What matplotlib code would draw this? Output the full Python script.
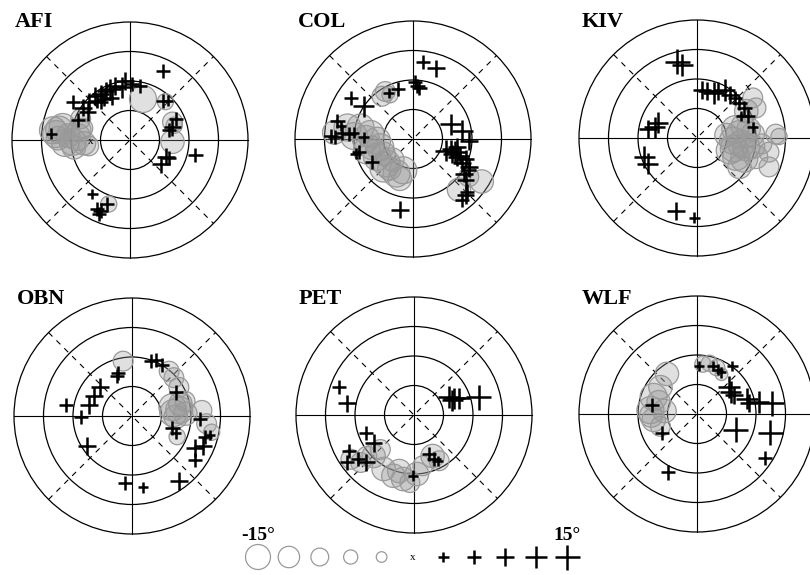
import numpy as np
import matplotlib.pyplot as plt
from matplotlib.patches import Circle

stations = ['AFI', 'COL', 'KIV', 'OBN', 'PET', 'WLF']

# (east, north, residual) in ring units; residual in degrees, -15..15
afiPts = [(-1.94, 1.28, 6), (-1.6, 1.1, 9), (-1.39, 1.28, 9), (-1.44, 0.95, 9),
          (-1.17, 1.5, 9), (-1.0, 1.55, 9), (-0.83, 1.67, 9), (-0.67, 1.72, 12),
          (-0.5, 1.83, 9), (-0.28, 1.78, 12), (-0.17, 2.0, 9), (-1.11, 1.33, 6),
          (-0.89, 1.39, 6), (-0.61, 1.44, 6), (-1.0, 1.28, 6), (0.33, 1.83, 6),
          (0.06, 1.89, 6), (-1.76, 0.67, 6), (1.11, 2.33, 6), (1.11, 1.33, 6),
          (1.28, 1.33, 3), (1.56, 0.72, 6), (1.44, 0.44, 9), (1.33, 0.33, 6),
          (1.22, -0.56, 9), (1.06, -0.83, 9), (1.33, -0.61, 6), (2.22, -0.5, 6),
          (-1.28, -1.83, 3), (-1.11, -2.33, 6), (-1.0, -2.39, 6), (-0.78, -2.17, 6),
          (-1.06, -2.5, 6), (-2.67, 0.22, 3),
          (-2.61, 0.33, -15), (-2.28, 0.44, -15), (-2.44, 0.06, -12), (-1.94, -0.06, -15),
          (-1.56, -0.11, -12), (-1.72, 0.33, -12), (-1.67, 0.72, -9), (-2.1, 0.15, -12),
          (-2.5, 0.2, -15), (-2.2, -0.1, -15), (-1.8, 0.1, -15), (-1.4, -0.2, -9),
          (-2.4, 0.35, -15), (-1.9, -0.25, -12), (-1.6, 0.4, -9),
          (-1.33, -0.06, 0), (0.44, 1.39, -15), (1.44, -0.06, -12), (-0.72, -2.17, -6),
          (1.44, 0.61, -9), (1.5, 0.5, -6), (1.2, 1.3, -6)]

colPts = [(0.33, 2.61, 6), (0.78, 2.39, 9), (0.06, 1.94, 6), (0.22, 1.72, 6),
          (0.15, 1.8, 6), (-0.5, 1.7, 6), (-0.83, 1.56, 3), (-2.11, 1.39, 6),
          (-1.67, 1.11, 12), (-2.56, 0.61, 6), (-2.44, 0.44, 3), (-2.78, 0.11, 6),
          (-2.65, 0.06, 6), (-2.39, 0.22, 6), (-2.17, 0.17, 6), (-2.0, 0.22, 3),
          (-1.67, 0.06, 3), (-1.94, -0.5, 3), (-1.83, -0.44, 6), (-1.39, -0.78, 6),
          (-0.44, -2.39, 9), (1.28, 0.5, 12), (1.67, 0.28, 12), (1.89, -0.06, 9),
          (1.28, -0.33, 9), (1.44, -0.44, 12), (1.61, -0.56, 9), (1.78, -0.67, 9),
          (1.5, -0.28, 9), (1.33, -0.5, 9), (1.67, -0.83, 9), (1.89, -0.94, 9),
          (1.72, -1.17, 9), (1.78, -1.39, 9), (1.89, -1.06, 6), (1.78, -1.89, 9),
          (1.67, -2.06, 6), (1.83, -1.78, 6), (1.11, -0.39, 12), (1.5, -0.6, 9),
          (-0.94, 1.61, -9), (-0.78, 1.5, -6), (-1.05, 1.45, -9),
          (-2.67, 0.22, -12), (-2.22, 0.39, -15), (-1.78, 0.39, -15), (-1.44, 0.17, -15),
          (-1.22, -0.06, -15), (-1.56, -0.39, -15), (-1.22, -0.61, -15), (-0.89, -0.83, -15),
          (-0.56, -1.17, -15), (-0.33, -1.06, -15), (-1.11, -0.28, -15), (-2.0, 0.1, -15),
          (-1.4, -0.3, -12), (-0.8, -1.0, -12), (-1.0, -0.5, -12), (-0.7, -0.7, -12),
          (-1.0, -1.0, -15), (-0.45, -1.35, -12), (-1.6, 0.0, -15),
          (2.33, -1.44, -12), (1.56, -1.72, -12), (1.89, -1.28, -9)]

kivPts = [(-0.67, 2.58, 15), (-0.5, 2.47, 12), (-1.33, 0.52, 12), (-1.44, 0.36, 12),
          (-1.67, 0.3, 9), (-1.78, -0.64, 12), (-1.67, -0.87, 12), (-0.72, -2.48, 9),
          (-0.09, -2.7, 3), (0.17, 1.63, 9), (0.33, 1.58, 9), (0.56, 1.52, 12),
          (0.72, 1.58, 9), (0.94, 1.63, 12), (1.11, 1.47, 9), (1.28, 1.36, 6),
          (1.44, 1.19, 6), (1.61, 1.02, 6), (1.72, 0.74, 6), (1.89, 0.36, 3),
          (1.5, 0.74, 3), (1.72, 1.7, 0),
          (1.22, -0.09, -15), (1.44, 0.13, -15), (1.67, -0.31, -15), (1.33, -0.64, -15),
          (1.89, 0.13, -12), (2.0, -0.64, -12), (2.44, -0.48, -9), (2.44, -0.98, -9),
          (2.67, 0.13, -9), (2.78, 0.05, -6), (1.44, -0.98, -12), (1.67, 0.91, -12),
          (2.0, 1.02, -9), (1.89, 1.36, -9), (1.11, -0.42, -15), (1.0, 0.1, -12),
          (1.55, 0.4, -12), (1.3, 0.3, -15), (1.6, -0.7, -15), (1.9, -0.3, -12),
          (1.25, -0.35, -15), (1.5, -0.2, -15), (1.75, 0.3, -12), (2.2, -0.2, -9)]

obnPts = [(-2.24, 0.36, 6), (-1.74, -0.03, 6), (-1.47, 0.36, 9), (-1.3, 0.69, 9),
          (-1.08, 0.97, 9), (-1.52, -1.03, 9), (-0.52, 1.36, 6), (-0.47, 1.47, 6),
          (0.64, 1.86, 6), (0.81, 1.91, 6), (1.03, 1.74, 6), (1.48, 0.8, 6),
          (1.37, -0.42, 6), (1.48, -0.59, 3), (2.31, -0.09, 6), (2.48, -0.7, 6),
          (2.14, -1.09, 9), (2.42, -1.03, 9), (2.64, -0.64, 3), (2.14, -1.48, 6),
          (-0.24, -2.26, 6), (0.37, -2.42, 3), (1.59, -2.2, 9),
          (-0.3, 1.86, -9), (1.26, 1.52, -9), (1.42, 1.3, -9), (1.59, 0.97, -9),
          (1.37, 0.3, -15), (1.64, 0.41, -12), (1.81, 0.08, -12), (1.48, -0.03, -12),
          (1.8, 0.5, -9), (2.37, 0.19, -9), (2.53, -0.26, -9), (2.7, -0.55, -6),
          (1.53, -0.7, -6), (1.4, 0.1, -15), (1.6, 0.2, -15)]

petPts = [(-2.53, 0.94, 6), (-2.26, 0.39, 9), (-1.64, -0.61, 6), (-1.37, -0.94, 9),
          (-2.2, -1.22, 6), (-2.26, -1.61, 6), (-1.64, -1.61, 9), (-1.9, -1.5, 6),
          (1.19, 0.61, 12), (1.36, 0.56, 12), (1.52, 0.56, 12), (2.19, 0.61, 15),
          (1.3, 0.5, 12), (0.52, -1.33, 6), (0.69, -1.5, 6), (0.8, -1.56, 3),
          (-0.03, -2.06, 3),
          (-2.14, -1.5, -9), (-1.81, -1.61, -9), (-1.37, -1.39, -12), (-1.03, -1.83, -12),
          (-0.7, -2.06, -12), (-0.37, -2.17, -12), (-0.14, -2.29, -9), (0.3, -1.72, -9),
          (0.63, -1.39, -12), (0.85, -1.55, -9), (-1.14, -1.17, -9), (-0.5, -1.9, -12),
          (-1.6, -1.4, -9), (0.1, -2.0, -12)]

wlfPts = [(0.07, 1.63, 3), (0.53, 1.63, 3), (0.81, 1.41, 3), (1.2, 1.63, 3),
          (0.7, 1.5, 3), (1.09, 0.91, 12), (1.14, 0.74, 12), (1.26, 0.63, 9),
          (1.7, 0.52, 12), (1.76, 0.36, 9), (2.09, 0.41, 12), (2.53, 0.36, 15),
          (1.31, -0.53, 15), (2.48, -0.64, 15), (2.31, -1.48, 6), (-1.52, 0.3, 6),
          (-1.19, -0.64, 6), (-0.97, -1.98, 6),
          (-1.02, 1.36, -12), (-1.24, 0.91, -12), (-1.47, 0.58, -15), (-1.58, 0.13, -15),
          (-1.47, -0.2, -12), (-1.24, -0.42, -9), (-1.1, 0.1, -12), (-1.3, 0.4, -12),
          (-1.55, -0.05, -12), (0.2, 1.69, -6), (0.42, 1.72, -6), (0.67, 1.57, -6),
          (0.83, 1.35, -3)]

allPts = [afiPts, colPts, kivPts, obnPts, petPts, wlfPts]
legendVals = [-15, -12, -9, -6, -3, 0, 3, 6, 9, 12, 15]

W, H = 810, 575
unit = 29.5
lim = 4.3
centersX = [130, 413, 697, 132, 414, 697]
centersY = [140, 139, 138, 416, 415, 414]
circleColor = '#9a9a9a'


def markSize(v, base=3.5):
    half = base + 0.6 * abs(v)       # half width in pixels
    return (2 * half * 0.72) ** 2


def drawMarks(ax, pts, fill=True):
    neg = [p for p in pts if p[2] < 0]
    pos = [p for p in pts if p[2] > 0]
    zero = [p for p in pts if p[2] == 0]
    if neg:
        face = (0.6, 0.6, 0.6, 0.3) if fill else 'none'
        base = 4.5 if fill else 3.5
        ax.scatter([p[0] for p in neg], [p[1] for p in neg],
                   s=[markSize(p[2], base) for p in neg],
                   marker='o', facecolors=face, edgecolors=circleColor, linewidths=0.9, zorder=3)
    if pos:
        ax.scatter([p[0] for p in pos], [p[1] for p in pos], s=[markSize(p[2]) for p in pos],
                   marker='+', c='black', linewidths=1.8, zorder=4)
    for p in zero:
        ax.text(p[0], p[1], 'x', fontsize=8, family='Liberation Serif',
                ha='center', va='center', zorder=4)


def drawPanel(fig, name, cx, cy, pts):
    half = lim * unit
    ax = fig.add_axes([(cx - half) / W, (H - cy - half) / H, 2 * half / W, 2 * half / H])
    ax.set_xlim(-lim, lim)
    ax.set_ylim(-lim, lim)
    ax.axis('off')
    for r in [1, 2, 3, 4]:
        ax.add_patch(Circle((0, 0), r, fill=False, ec='black', lw=0.9, zorder=2))
    ax.plot([-4, 4], [0, 0], color='black', lw=0.8, zorder=2)
    ax.plot([0, 0], [-4, 4], color='black', lw=0.8, zorder=2)
    d = 4 / np.sqrt(2)
    ax.plot([-d, d], [-d, d], color='black', lw=0.8, ls=(0, (5, 5)), zorder=2)
    ax.plot([-d, d], [d, -d], color='black', lw=0.8, ls=(0, (5, 5)), zorder=2)
    drawMarks(ax, pts)
    fig.text((cx - 115) / W, 1 - 27 / H if cy < 300 else 1 - 304 / H, name,
             fontsize=16, fontweight='bold', family='Liberation Serif', va='baseline')


def drawLegend(fig):
    x0, x1, y0, y1 = 230, 600, 508, 575
    ax = fig.add_axes([x0 / W, (H - y1) / H, (x1 - x0) / W, (y1 - y0) / H])
    ax.set_xlim(x0, x1)
    ax.set_ylim(y1, y0)
    ax.axis('off')
    xs = 258 + 30.9 * np.arange(len(legendVals))
    ys = np.full(len(legendVals), 557.0)
    drawMarks(ax, list(zip(xs, ys, legendVals)), fill=False)
    ax.text(xs[0], 540, '-15°', fontsize=14, fontweight='bold', family='Liberation Serif',
            ha='center', va='baseline')
    ax.text(xs[-1], 540, '15°', fontsize=14, fontweight='bold', family='Liberation Serif',
            ha='center', va='baseline')


fig = plt.figure(figsize=(W / 100, H / 100), dpi=100)
for name, cx, cy, pts in zip(stations, centersX, centersY, allPts):
    drawPanel(fig, name, cx, cy, pts)
drawLegend(fig)
fig.savefig('out.png', dpi=100)
